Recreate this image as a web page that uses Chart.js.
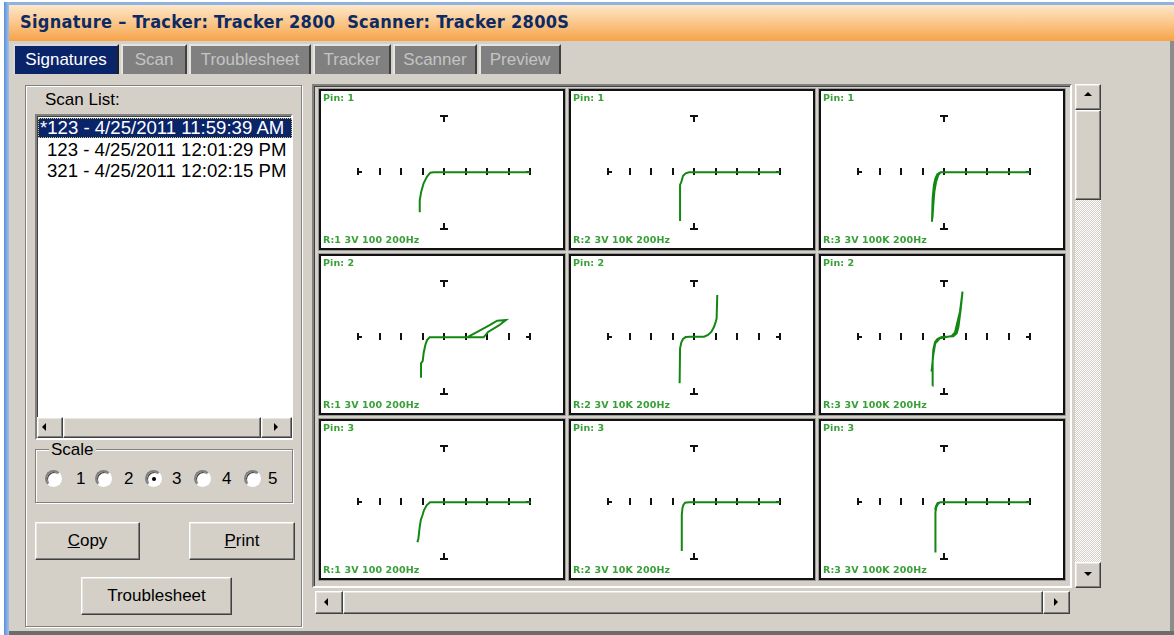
<!DOCTYPE html>
<html lang="en">
<head>
<meta charset="UTF-8">
<title>Signature</title>
<script src="https://cdn.jsdelivr.net/npm/chart.js"></script>
<style>
  body { margin:0; width:1174px; height:635px; overflow:hidden; background:#fff; position:relative;
         font-family:"Liberation Sans", Arial, sans-serif; font-size:17px; color:#000; }
  div { box-sizing:border-box; }
  .a { position:absolute; }
  .raised { background:#d4d0c8; border:1px solid; border-color:#fff #404040 #404040 #fff;
            box-shadow: inset -1px -1px #808080, inset 1px 1px #e8e6e0; }
  .sunken { border:2px solid; border-color:#808080 #fff #fff #808080; box-shadow: inset 1px 1px #404040; }
  .etched { border:1px solid #808080; box-shadow: inset 1px 1px #fff, 1px 1px #fff; }
  .tab { position:absolute; top:44px; height:30px; line-height:28px; text-align:center; font-size:17px;
         background:#808080; color:#c4c4c4; border-top:2px solid #e4e4e4; border-left:2px solid #e4e4e4;
         border-right:2px solid #404040; }
  .tab.on { background:#0a246a; color:#fff; border-color:#d8d8d8 #202020 #202020 #d8d8d8; }
  .btn { position:absolute; text-align:center; font-size:17px; }
  .radio { position:absolute; width:17px; height:17px; border-radius:50%; background:#fff; border:2px solid;
           border-color:#808080 #fff #fff #808080; box-shadow: inset 1px 1px #404040; }
  .dot { position:absolute; left:4.5px; top:4.5px; width:4px; height:4px; border-radius:50%; background:#000; }
  .tri { position:absolute; width:0; height:0; border:4px solid transparent; }
  .box { position:absolute; width:246px; height:161px; border:2px solid #111; background:#fff;
         outline:1px solid #9a9a9a; }
  .box canvas { position:absolute; left:0; top:0; }
  .lbl { position:absolute; left:2px; font:bold 9.5px "DejaVu Sans", sans-serif; color:#37a037; line-height:10px;
         white-space:nowrap; letter-spacing:0.1px; }
</style>
</head>
<body>

<!-- window frame -->
<div class="a" style="left:4px;top:2px;width:1170px;height:3px;background:#8db2e6"></div>
<div class="a" style="left:4px;top:2px;width:5px;height:633px;background:linear-gradient(to right,#5d8fd8,#9fc0ee)"></div>
<div class="a" style="left:9px;top:5px;width:1165px;height:36px;background:linear-gradient(to bottom,#fde6c8 0%,#fbca90 45%,#f6a348 100%)"></div>
<div class="a" style="left:20px;top:11px;font:bold 18px 'DejaVu Sans Condensed','DejaVu Sans',sans-serif;color:#0c2a64;white-space:nowrap;letter-spacing:0.3px">Signature – Tracker: Tracker 2800&nbsp; Scanner: Tracker 2800S</div>
<div class="a" style="left:9px;top:41px;width:1162px;height:590px;background:#d4d0c8"></div>
<div class="a" style="left:1170px;top:41px;width:4px;height:594px;background:#8c8c8c"></div>
<div class="a" style="left:9px;top:631px;width:1165px;height:4px;background:#6c6c6c"></div>

<!-- tabs -->
<div class="tab on" style="left:13px;width:106px">Signatures</div>
<div class="tab" style="left:121px;width:66px">Scan</div>
<div class="tab" style="left:189px;width:122px">Troublesheet</div>
<div class="tab" style="left:313px;width:78px">Tracker</div>
<div class="tab" style="left:393px;width:84px">Scanner</div>
<div class="tab" style="left:479px;width:82px">Preview</div>

<!-- left panel -->
<div class="a etched" style="left:25px;top:85px;width:277px;height:542px"></div>
<div class="a" style="left:45px;top:90px;line-height:19px">Scan List:</div>
<div class="a sunken" style="left:35px;top:114px;width:258px;height:326px;background:#fff"></div>
<div class="a" style="left:38px;top:118px;width:254px;height:20px;background:#0a246a;outline:1px dotted #d8c860;outline-offset:-1px"></div>
<div class="a" style="left:40px;top:118px;line-height:20px;font-size:18.6px;color:#fff;white-space:nowrap">*123 - 4/25/2011 11:59:39 AM</div>
<div class="a" style="left:47px;top:139.5px;line-height:20px;font-size:18.6px;white-space:nowrap">123 - 4/25/2011 12:01:29 PM</div>
<div class="a" style="left:47px;top:161px;line-height:20px;font-size:18.6px;white-space:nowrap">321 - 4/25/2011 12:02:15 PM</div>
<div class="a raised" style="left:37px;top:417px;width:26px;height:21px"><div class="tri" style="left:4px;top:5px;border-right-color:#000;border-left-width:0"></div></div>
<div class="a raised" style="left:63px;top:417px;width:198px;height:21px"></div>
<div class="a raised" style="left:261px;top:417px;width:31px;height:21px"><div class="tri" style="left:12px;top:5px;border-left-color:#000;border-right-width:0"></div></div>

<div class="a etched" style="left:35px;top:449px;width:258px;height:54px"></div>
<div class="a" style="left:49px;top:440px;padding:0 2px;background:#d4d0c8;line-height:19px">Scale</div>
<div class="radio" style="left:45px;top:470px"></div><div class="a" style="left:76px;top:469px;line-height:19px">1</div>
<div class="radio" style="left:95px;top:470px"></div><div class="a" style="left:124px;top:469px;line-height:19px">2</div>
<div class="radio" style="left:145px;top:470px"><div class="dot"></div></div><div class="a" style="left:172px;top:469px;line-height:19px">3</div>
<div class="radio" style="left:194px;top:470px"></div><div class="a" style="left:222px;top:469px;line-height:19px">4</div>
<div class="radio" style="left:244px;top:470px"></div><div class="a" style="left:268px;top:469px;line-height:19px">5</div>

<div class="btn raised" style="left:35px;top:522px;width:105px;height:38px;line-height:35px"><u>C</u>opy</div>
<div class="btn raised" style="left:189px;top:522px;width:106px;height:38px;line-height:35px"><u>P</u>rint</div>
<div class="btn raised" style="left:81px;top:577px;width:151px;height:38px;line-height:35px">Troublesheet</div>

<!-- chart grid frame -->
<div class="a sunken" style="left:312px;top:84px;width:760px;height:504px"></div>
<div id="grid"></div>

<!-- vertical scrollbar -->
<div class="a raised" style="left:1075px;top:84px;width:26px;height:26px"><div class="tri" style="left:8px;top:7px;border-bottom-color:#000;border-top-width:0"></div></div>
<div class="a raised" style="left:1075px;top:110px;width:26px;height:90px"></div>
<div class="a" style="left:1075px;top:200px;width:26px;height:362px;background:repeating-conic-gradient(#fff 0 25%,#d4d0c8 0 50%) 0 0/2px 2px"></div>
<div class="a raised" style="left:1075px;top:562px;width:26px;height:26px"><div class="tri" style="left:8px;top:9px;border-top-color:#000;border-bottom-width:0"></div></div>

<!-- horizontal scrollbar -->
<div class="a raised" style="left:315px;top:591px;width:28px;height:23px"><div class="tri" style="left:8px;top:6px;border-right-color:#000;border-left-width:0"></div></div>
<div class="a raised" style="left:343px;top:591px;width:700px;height:23px"></div>
<div class="a raised" style="left:1043px;top:591px;width:27px;height:23px"><div class="tri" style="left:10px;top:6px;border-left-color:#000;border-right-width:0"></div></div>

<script>
// horizontal axis ticks (divisions) and vertical cap position
const tickValues = [-4, -3, -2, -1, 0, 1, 2, 3, 4];
const capY = 2.63;

const pinLabels = ["Pin: 1", "Pin: 2", "Pin: 3"];
const rangeLabels = ["R:1 3V 100 200Hz", "R:2 3V 10K 200Hz", "R:3 3V 100K 200Hz"];

// pin 1
const p1r1X = [-1.13, -1.13, -1.06, -0.95, -0.79, -0.64, -0.48, 4.0];
const p1r1Y = [-1.86, -1.29, -0.90, -0.51, -0.20, -0.02, 0, 0];
const p1r2X = [-0.65, -0.65, -0.59, -0.51, -0.39, -0.23, 4.0];
const p1r2Y = [-2.27, -0.59, -0.44, -0.16, -0.05, 0, 0];
const p1r3X = [-0.56, -0.53, -0.47, -0.40, -0.31, -0.16, 4.0, -0.16, -0.27, -0.37, -0.45, -0.50, -0.54];
const p1r3Y = [-2.30, -1.21, -0.59, -0.28, -0.09, 0, 0, 0, -0.13, -0.44, -0.90, -1.52, -2.14];

// pin 2
const p2r1X = [-1.07, -1.07, -0.99, -0.95, -0.87, -0.79, -0.67, 1.84, 2.05, 2.55, 2.88, 2.47, 2.10, 1.61, 1.18, 1.10];
const p2r1Y = [-1.88, -1.21, -1.10, -0.74, -0.36, -0.13, 0, 0, 0.25, 0.55, 0.80, 0.77, 0.55, 0.29, 0.06, 0];
const p2r2X = [-0.67, -0.65, -0.59, -0.51, -0.39, -0.16, 0.47, 0.65, 0.81, 0.93, 1.01, 1.05, 1.08];
const p2r2Y = [-2.14, -0.51, -0.23, -0.08, 0.01, 0.03, 0.03, 0.11, 0.26, 0.49, 0.73, 0.88, 1.97];
const p2r3X = [-0.54, -0.53, -0.50, -0.42, -0.31, -0.11, 0.43, 0.59, 0.67, 0.71, 0.77, 0.86, 0.74, 0.63, 0.51, 0.36, -0.19, -0.41, -0.50, -0.58];
const p2r3Y = [-2.25, -1.13, -0.59, -0.23, -0.08, 0.01, 0.05, 0.19, 0.49, 0.80, 1.27, 2.12, 1.19, 0.73, 0.23, 0.06, -0.05, -0.28, -0.82, -1.60];

// pin 3
const p3r1X = [-1.24, -1.19, -1.14, -1.08, -1.00, -0.93, -0.80, -0.65, 4.03];
const p3r1Y = [-1.86, -1.67, -1.21, -0.82, -0.59, -0.36, -0.13, 0, 0];
const p3r2X = [-0.57, -0.57, -0.54, -0.50, -0.42, -0.23, 4.0];
const p3r2Y = [-2.27, -0.59, -0.28, -0.13, -0.02, 0, 0];
const p3r3X = [-0.40, -0.40, -0.36, -0.28, -0.17, 4.0, -0.17, -0.30, -0.37, -0.42];
const p3r3Y = [-2.33, -0.45, -0.22, -0.08, 0, 0, 0, -0.04, -0.18, -0.35];

const traces = [
  [p1r1X, p1r1Y], [p1r2X, p1r2Y], [p1r3X, p1r3Y],
  [p2r1X, p2r1Y], [p2r2X, p2r2Y], [p2r3X, p2r3Y],
  [p3r1X, p3r1Y], [p3r2X, p3r2Y], [p3r3X, p3r3Y]
];

// view window of each small plot
const xMin = -5.72, xMax = 5.53, yMin = -3.52, yMax = 3.78;

// draws the division ticks and the T caps of the crosshair
const axisMarks = {
  id: "axisMarks",
  beforeDatasetsDraw(chart) {
    const { ctx, scales: { x, y } } = chart;
    const y0 = Math.round(y.getPixelForValue(0));
    const x0 = Math.round(x.getPixelForValue(0));
    const xl = Math.round(x.getPixelForValue(tickValues[0]));
    const xr = Math.round(x.getPixelForValue(tickValues[tickValues.length - 1]));
    const yt = Math.round(y.getPixelForValue(capY));
    const yb = Math.round(y.getPixelForValue(-capY));
    ctx.save();
    ctx.strokeStyle = "#111";
    ctx.lineWidth = 2;
    ctx.beginPath();
    tickValues.forEach(t => {
      const px = Math.round(x.getPixelForValue(t));
      ctx.moveTo(px, y0 - 4);
      ctx.lineTo(px, y0 + 3);
    });
    ctx.moveTo(xl, y0); ctx.lineTo(xl + 4, y0);
    ctx.moveTo(xr - 4, y0); ctx.lineTo(xr, y0);
    ctx.moveTo(x0 - 4, yt); ctx.lineTo(x0 + 4, yt);
    ctx.moveTo(x0, yt); ctx.lineTo(x0, yt + 6);
    ctx.moveTo(x0 - 4, yb); ctx.lineTo(x0 + 4, yb);
    ctx.moveTo(x0, yb - 6); ctx.lineTo(x0, yb);
    ctx.stroke();
    ctx.restore();
  }
};

const grid = document.getElementById("grid");
traces.forEach((tr, i) => {
  const row = Math.floor(i / 3), col = i % 3;
  const box = document.createElement("div");
  box.className = "box";
  box.style.left = (319 + col * 250) + "px";
  box.style.top = (89 + row * 165) + "px";
  const cv = document.createElement("canvas");
  cv.width = 242;
  cv.height = 157;
  box.appendChild(cv);
  const top = document.createElement("div");
  top.className = "lbl";
  top.style.top = "2px";
  top.textContent = pinLabels[row];
  box.appendChild(top);
  const bot = document.createElement("div");
  bot.className = "lbl";
  bot.style.top = "144px";
  bot.textContent = rangeLabels[col];
  box.appendChild(bot);
  grid.appendChild(box);

  new Chart(cv.getContext("2d"), {
    type: "scatter",
    data: {
      datasets: [{
        data: tr[0].map((v, k) => ({ x: v, y: tr[1][k] })),
        showLine: true,
        borderColor: "#128812",
        borderWidth: 2,
        pointRadius: 0,
        tension: 0
      }]
    },
    options: {
      responsive: false,
      animation: false,
      events: [],
      layout: { padding: 0 },
      plugins: { legend: { display: false }, tooltip: { enabled: false } },
      scales: {
        x: { type: "linear", min: xMin, max: xMax, display: false },
        y: { type: "linear", min: yMin, max: yMax, display: false }
      }
    },
    plugins: [axisMarks]
  });
});
</script>
</body>
</html>
